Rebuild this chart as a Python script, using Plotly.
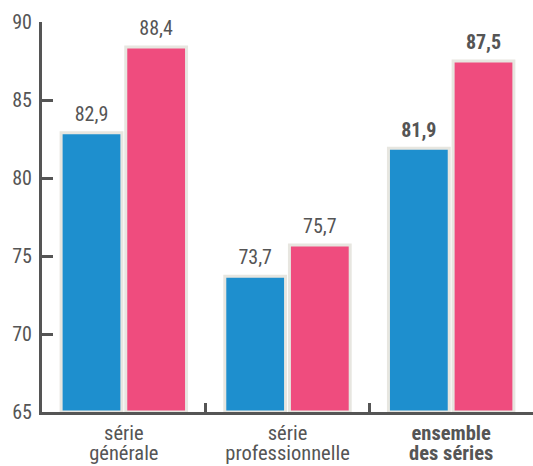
import plotly.graph_objects as go

categories = ["série générale", "série professionnelle", "ensemble des séries"]
tick_lines = [["série", "générale"], ["série", "professionnelle"], ["ensemble", "des séries"]]
blue_values = [82.9, 73.7, 81.9]
pink_values = [88.4, 75.7, 87.5]
bold_flags = [False, False, True]
y_ticks = [65, 70, 75, 80, 85, 90]

BLUE = "#1e8fce"
PINK = "#ef4c7e"
BORDER = "#e7e6e0"
GREY = "#555555"
FONT = "Roboto Condensed, Liberation Sans Narrow, Arial Narrow, sans-serif"


def labels(vals):
    out = []
    for v, b in zip(vals, bold_flags):
        s = f"{v:.1f}".replace(".", ",")
        s = f"<b>{s}</b>" if b else s
        out.append(f"<span style='font-size:20px'>{s}</span><br> ")
    return out


def tick_text(lines, bold):
    parts = [f"<span style='font-size:20.5px'>{ln}</span>" for ln in lines]
    t = "<br>".join(parts)
    return f"<b>{t}</b>" if bold else t


fig = go.Figure()
for vals, col in [(blue_values, BLUE), (pink_values, PINK)]:
    fig.add_trace(go.Bar(
        x=categories, y=[v - 65 for v in vals], base=65,
        marker=dict(color=col, line=dict(color=BORDER, width=3)),
        text=labels(vals), textposition="outside",
        textfont=dict(family=FONT, size=6, color=GREY),
        cliponaxis=False, showlegend=False, hoverinfo="skip",
    ))

fig.update_layout(
    width=533, height=466,
    margin=dict(l=42, r=0, t=22, b=54, autoexpand=False),
    paper_bgcolor="white", plot_bgcolor="white",
    barmode="group", bargap=0.21, bargroupgap=0.06,
    font=dict(family=FONT, size=20, color=GREY),
    xaxis=dict(
        automargin=False,
        tickmode="array", tickvals=categories,
        ticktext=[tick_text(l, b) for l, b in zip(tick_lines, bold_flags)],
        showline=True, linecolor=GREY, linewidth=3,
        ticks="inside", ticklen=9, tickwidth=3, tickcolor=GREY,
        tickson="boundaries", showgrid=False, ticklabelstandoff=7,
        tickfont=dict(family=FONT, size=15, color=GREY),
    ),
    yaxis=dict(
        automargin=False,
        range=[65, 90], tickvals=y_ticks, showgrid=False, zeroline=False,
        showline=True, linecolor=GREY, linewidth=3,
        ticks="inside", ticklen=11, tickwidth=3, tickcolor=GREY,
        ticklabelstandoff=3,
        tickfont=dict(family=FONT, size=20, color=GREY),
    ),
)

fig.write_html("out.html", config={"displayModeBar": False},
               post_script="document.body.style.margin='0';")
